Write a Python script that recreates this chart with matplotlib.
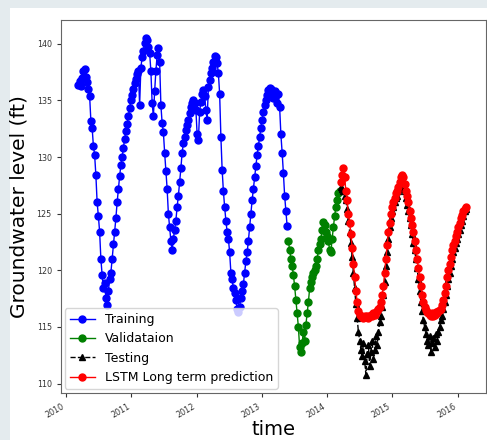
import numpy as np
import pandas as pd
import matplotlib
matplotlib.use("Agg")
import matplotlib.pyplot as plt
import matplotlib.dates as mdates
from matplotlib.patches import Rectangle

# groundwater levels (ft), one reading per week
train_start = "2010-03-10"
train_vals = [136.4, 136.7, 136.3, 137.0, 137.6, 137.8, 137.1, 136.6, 136.0, 135.4,
              133.2, 132.6, 131.0, 130.2, 128.4, 126.0, 124.8, 123.4, 121.0, 119.6,
              118.4, 118.9, 117.6, 116.9, 118.2, 119.2, 119.8, 121.0, 122.3, 123.4,
              124.6, 126.0, 127.2, 128.3, 129.3, 130.0, 130.8, 131.6, 132.3, 132.9,
              133.6, 134.3, 135.0, 135.5, 136.0, 136.5, 136.9, 137.3, 137.6, 134.6,
              137.9, 138.8, 139.4, 140.1, 140.5, 140.3, 139.7, 139.2, 137.6, 134.8,
              133.6, 135.8, 137.6, 139.0, 139.6, 138.4, 134.6, 133.0, 132.2, 130.4,
              128.8, 127.2, 125.0, 123.8, 122.6, 121.8, 122.8, 123.6, 124.4, 125.6,
              126.6, 127.8, 129.0, 130.4, 131.2, 131.8, 132.4, 132.8, 133.3, 133.9,
              134.4, 134.8, 135.0, 134.8, 134.2, 132.0, 131.5, 134.0, 134.9, 135.6,
              135.9, 135.4, 134.2, 133.3, 136.2, 136.8, 137.4, 137.9, 138.4, 138.9,
              138.8, 138.3, 137.4, 135.6, 131.8, 128.9, 127.0, 125.6, 124.4, 123.4,
              122.8, 121.6, 119.8, 119.2, 118.4, 118.0, 117.4, 116.6, 116.3, 116.8,
              117.6, 118.2, 118.8, 119.8, 120.8, 121.6, 122.6, 123.8, 125.0, 126.2,
              127.2, 128.2, 129.2, 130.2, 131.0, 131.8, 132.6, 133.3, 134.0, 134.6,
              135.0, 135.5, 135.9, 136.1, 136.0, 135.6, 135.2, 135.8, 135.5, 134.8,
              135.6, 134.4, 132.0, 130.4, 128.6, 126.6, 125.2, 123.9]

val_start = "2013-05-29"
val_vals = [122.6, 121.8, 121.0, 120.4, 119.6, 118.6, 117.4, 116.2, 115.0, 113.2,
            112.8, 113.6, 114.6, 113.8, 115.2, 116.2, 117.2, 118.4, 119.0, 119.4,
            119.8, 120.0, 120.4, 121.0, 121.8, 122.3, 122.8, 123.6, 124.3, 124.0,
            123.4, 123.0, 122.6, 121.8, 121.6, 122.8, 123.8, 124.8, 125.6, 126.2,
            126.8, 127.0]

test_start = "2014-03-19"
test_vals = [127.4, 127.2, 127.0, 126.6, 126.2, 125.4, 124.4, 123.4, 122.4, 121.2,
             119.8, 118.4, 117.0, 115.8, 114.6, 113.8, 113.0, 112.4, 113.6, 112.0,
             110.8, 112.6, 113.4, 111.6, 112.8, 113.8, 112.2, 113.0, 114.2, 113.4,
             114.6, 115.4, 116.0, 116.8, 117.8, 119.0, 120.4, 121.6, 122.8, 123.8,
             124.6, 125.2, 125.6, 126.0, 126.4, 126.6, 127.0, 127.2, 127.4, 127.6,
             127.4, 127.0, 126.4, 125.8, 125.2, 124.6, 124.0, 123.2, 122.4, 121.8,
             121.0, 120.2, 119.2, 118.2, 117.2, 116.4, 115.6, 115.0, 114.4, 113.8,
             113.4, 114.2, 112.8, 113.6, 114.0, 113.2, 114.4, 113.8, 114.6, 115.0,
             115.6, 116.0, 116.6, 117.2, 117.8, 118.6, 119.2, 119.8, 120.4, 121.0,
             121.6, 122.0, 122.4, 122.8, 123.2, 123.6, 124.0, 124.4, 124.8, 125.2,
             125.4]

lstm_vals = [127.8, 128.4, 129.0, 128.2, 127.0, 126.2, 125.0, 124.2, 123.2, 122.0,
             120.6, 119.4, 118.2, 117.2, 116.4, 116.1, 116.0, 115.9, 115.8, 116.0,
             115.9, 116.0, 115.8, 116.0, 116.1, 116.0, 116.2, 116.1, 116.3, 116.4,
             116.6, 116.8, 117.2, 117.8, 118.6, 119.8, 121.0, 122.2, 123.4, 124.2,
             125.0, 125.6, 126.0, 126.4, 126.8, 127.0, 127.4, 127.8, 128.2, 128.4,
             128.2, 127.6, 127.0, 126.6, 126.0, 125.2, 124.6, 124.0, 123.4, 122.6,
             121.8, 121.0, 120.2, 119.4, 118.6, 117.8, 117.2, 116.8, 116.5, 116.3,
             116.2, 116.1, 116.0, 116.2, 116.0, 116.1, 116.3, 116.2, 116.4, 116.5,
             116.6, 116.9, 117.4, 118.0, 118.6, 119.4, 120.0, 120.6, 121.2, 121.8,
             122.2, 122.6, 123.0, 123.4, 123.8, 124.2, 124.6, 124.9, 125.2, 125.4,
             125.6]

t_train = pd.date_range(train_start, periods=len(train_vals), freq="7D")
t_val = pd.date_range(val_start, periods=len(val_vals), freq="7D")
t_test = pd.date_range(test_start, periods=len(test_vals), freq="7D")

fig = plt.figure(figsize=(4.87, 4.4), dpi=100, facecolor="#e4ebee")
fig.patches.append(Rectangle((10 / 487, 0), 1, 1 - 8 / 440, transform=fig.transFigure,
                             facecolor="white", edgecolor="none", zorder=-1))
ax = fig.add_axes([0.125, 0.1075, 0.872, 0.847])

ax.plot(t_train, train_vals, "b-o", lw=1, ms=5, label="Training")
ax.plot(t_val, val_vals, "g-o", lw=1, ms=5, label="Validataion")
ax.plot(t_test, test_vals, "k--^", lw=1, ms=4.5, label="Testing")
ax.plot(t_test, lstm_vals, "r-o", lw=1, ms=5, label="LSTM Long term prediction")

ax.set_ylim(109.2, 142.1)
ax.set_xlim(pd.Timestamp("2009-12-02"), pd.Timestamp("2016-06-06"))
ax.xaxis.set_major_locator(mdates.YearLocator())
ax.xaxis.set_major_formatter(mdates.DateFormatter("%Y"))
ax.set_yticks([110, 115, 120, 125, 130, 135, 140])
ax.tick_params(labelsize=5.8, colors="#333333", length=3)
for lab in ax.get_xticklabels():
    lab.set_rotation(30)
    lab.set_ha("right")
for sp in ax.spines.values():
    sp.set_color("#666666")

ax.set_xlabel("time", fontsize=14, labelpad=0)
ax.set_ylabel("Groundwater level (ft)", fontsize=14.5, labelpad=6)
ax.legend(loc="lower left", fontsize=9, handlelength=2, borderaxespad=0.3)

fig.savefig("out.png", dpi=100, facecolor=fig.get_facecolor())
